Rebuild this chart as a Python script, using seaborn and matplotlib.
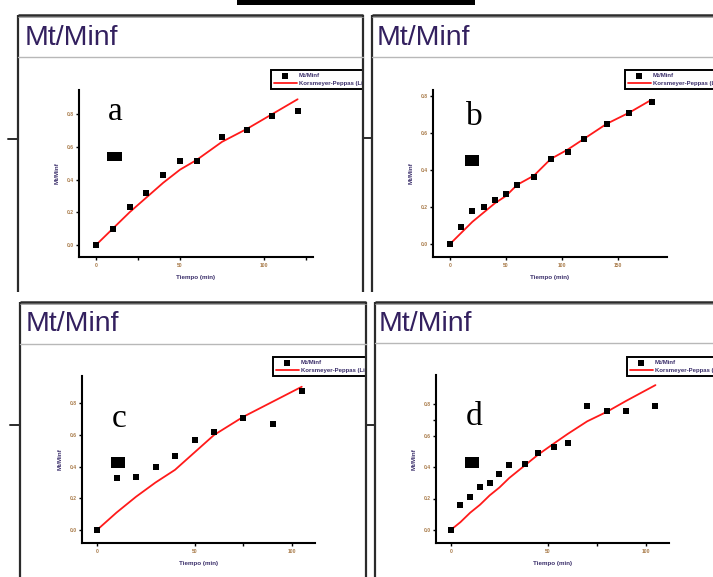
import matplotlib
matplotlib.use('Agg')
import matplotlib.pyplot as plt
import seaborn as sns
from matplotlib.patches import Rectangle

W, H = 713, 577

# ---------------- data ----------------
a_time = [0, 10, 20, 30, 40, 50, 60, 75, 90, 105, 120]
a_mt = [0.00, 0.10, 0.23, 0.32, 0.43, 0.51, 0.51, 0.66, 0.70, 0.79, 0.82]
a_fit = [0.00, 0.10, 0.20, 0.29, 0.38, 0.46, 0.52, 0.63, 0.71, 0.80, 0.89]

b_time = [0, 10, 20, 30, 40, 50, 60, 75, 90, 105, 120, 140, 160, 180]
b_mt = [0.00, 0.09, 0.18, 0.20, 0.24, 0.27, 0.32, 0.36, 0.46, 0.50, 0.57, 0.65, 0.71, 0.77]
b_fit = [0.00, 0.06, 0.12, 0.17, 0.22, 0.26, 0.32, 0.37, 0.46, 0.51, 0.57, 0.65, 0.71, 0.78]

c_time = [0, 10, 20, 30, 40, 50, 60, 75, 90, 105]
c_mt = [0.00, 0.33, 0.335, 0.40, 0.47, 0.57, 0.62, 0.705, 0.67, 0.88]
c_fit = [0.00, 0.11, 0.21, 0.30, 0.38, 0.49, 0.60, 0.715, 0.81, 0.905]

d_time = [0, 5, 10, 15, 20, 25, 30, 38, 45, 53, 60, 70, 80, 90, 105]
d_mt = [0.00, 0.16, 0.21, 0.27, 0.30, 0.355, 0.41, 0.42, 0.49, 0.53, 0.55, 0.79, 0.755, 0.755, 0.79]
d_fit = [0.00, 0.05, 0.11, 0.16, 0.22, 0.27, 0.33, 0.41, 0.48, 0.55, 0.61, 0.69, 0.75, 0.82, 0.92]

panel_letters = ["a", "b", "c", "d"]
window_title = "Mt/Minf"
x_label = "Tiempo (min)"
y_label = "Mt/Minf"
legend_labels = ["Mt/Minf", "Korsmeyer-Peppas (Lineal)"]
y_ticks = [0.0, 0.2, 0.4, 0.6, 0.8]
a_xticks = [0, 50, 100]
b_xticks = [0, 50, 100, 150]
c_xticks = [0, 50, 100]
d_xticks = [0, 50, 100]

# ---------------- layout (pixels) ----------------
panels = [
    dict(data=(a_time, a_mt, a_fit), letter=panel_letters[0], xt=a_xticks, xminor=[25, 125], yminor=[],
         frame=(18, 15, 363), sep=57, title=(25, 45), let=(108, 120), rect=(107, 152, 122, 161), ltick=(8, 139),
         box=(79, 90, 313, 257), x0=96, sx=1.68, y0=245, sy=163.75, leg=(271, 70)),
    dict(data=(b_time, b_mt, b_fit), letter=panel_letters[1], xt=b_xticks, xminor=[], yminor=[],
         frame=(372, 15, 760), sep=57, title=(377, 45), let=(466, 125), rect=(465, 155, 479, 166), ltick=(363, 138),
         box=(433, 90, 667, 257), x0=450, sx=1.12, y0=244, sy=185.0, leg=(625, 70)),
    dict(data=(c_time, c_mt, c_fit), letter=panel_letters[2], xt=c_xticks, xminor=[75], yminor=[],
         frame=(20, 302, 366), sep=344, title=(26, 331), let=(112, 427), rect=(111, 457, 125, 468), ltick=(10, 425),
         box=(82, 376, 315, 543), x0=97, sx=1.95, y0=530, sy=158.3, leg=(273, 357)),
    dict(data=(d_time, d_mt, d_fit), letter=panel_letters[3], xt=d_xticks, xminor=[75], yminor=[0.7],
         frame=(375, 302, 760), sep=343, title=(379, 331), let=(466, 425), rect=(465, 457, 479, 468), ltick=(366, 425),
         box=(436, 375, 669, 543), x0=450.7, sx=1.95, y0=530, sy=157.5, leg=(627, 357)),
]

sns.set_style("white")
plt.rcParams['font.family'] = ['Liberation Sans', 'DejaVu Sans']

fig = plt.figure(figsize=(W / 100, H / 100), dpi=100)
fig.patch.set_facecolor('white')

tick_color = '#a87a48'
text_color = '#3a2e6a'

for p in panels:
    bx0, by0, bx1, by1 = p['box']
    ax = fig.add_axes([bx0 / W, 1 - by1 / H, (bx1 - bx0) / W, (by1 - by0) / H])
    ax.set_facecolor('none')
    t, m, f = p['data']
    sns.lineplot(x=t, y=f, ax=ax, color='#ff1a1a', lw=1.3, label=legend_labels[1], zorder=2)
    sns.scatterplot(x=t, y=m, ax=ax, marker='s', color='black', s=18, linewidth=0,
                    label=legend_labels[0], zorder=3)
    ax.set_xlim((bx0 - p['x0']) / p['sx'], (bx1 - p['x0']) / p['sx'])
    ax.set_ylim((p['y0'] - by1) / p['sy'], (p['y0'] - by0) / p['sy'])
    for s in ['top', 'right']:
        ax.spines[s].set_visible(False)
    for s in ['left', 'bottom']:
        ax.spines[s].set_linewidth(1.5)
        ax.spines[s].set_color('black')
    ax.set_xticks(p['xt'])
    ax.set_xticklabels([str(v) for v in p['xt']])
    ax.set_xticks(p['xminor'], minor=True)
    ax.set_yticks(y_ticks)
    ax.set_yticklabels([f"{v:.1f}" for v in y_ticks])
    ax.set_yticks(p['yminor'], minor=True)
    ax.tick_params(axis='both', which='both', direction='out', length=2.5, width=1.0,
                   color='black', labelsize=3.6, labelcolor=tick_color, pad=1.5,
                   bottom=True, left=True)
    for lab in ax.get_xticklabels() + ax.get_yticklabels():
        lab.set_fontweight('bold')
    ax.set_xlabel(x_label, fontsize=4.5, fontweight='bold', color=text_color, labelpad=5)
    ax.set_ylabel(y_label, fontsize=4.5, fontweight='bold', color=text_color, labelpad=5)
    h, l = ax.get_legend_handles_labels()
    order = [l.index(legend_labels[0]), l.index(legend_labels[1])]
    leg = ax.legend([h[i] for i in order], [l[i] for i in order],
                    loc='upper left', bbox_to_anchor=(p['leg'][0] / W, 1 - p['leg'][1] / H),
                    bbox_transform=fig.transFigure, borderaxespad=0, fontsize=4.3,
                    frameon=True, fancybox=False, edgecolor='black', framealpha=1,
                    borderpad=0.5, labelspacing=0.4, handlelength=3.8, handletextpad=0.4,
                    markerscale=1.0)
    leg.get_frame().set_linewidth(1.4)
    for txt in leg.get_texts():
        txt.set_color(text_color)
        txt.set_fontweight('bold')

# ---------------- overlay: window frames, titles, letters ----------------
ov = fig.add_axes([0, 0, 1, 1])
ov.set_xlim(0, W)
ov.set_ylim(H, 0)
ov.axis('off')

# gaps between the cropped screenshots (hide overflow of the left windows)
ov.add_patch(Rectangle((363.8, 60), 7.5, 235, facecolor='white', edgecolor='none', zorder=1))
ov.add_patch(Rectangle((363.8, 62), 40, 34, facecolor='white', edgecolor='none', zorder=1))
ov.add_patch(Rectangle((366.8, 345), 7.5, 232, facecolor='white', edgecolor='none', zorder=1))
ov.add_patch(Rectangle((366.8, 348), 40, 34, facecolor='white', edgecolor='none', zorder=1))
# black bar at top
ov.add_patch(Rectangle((237, 0), 238, 4.5, facecolor='black', edgecolor='none', zorder=3))

fc = '#2b2b2b'
for p in panels:
    fl, ft, frr = p['frame']
    bottom = 292 if ft < 100 else 580
    ov.plot([fl, fl], [ft, bottom], color=fc, lw=1.6, zorder=4, solid_capstyle='butt')
    ov.plot([frr, frr], [ft, bottom], color=fc, lw=1.6, zorder=4, solid_capstyle='butt')
    ov.plot([fl, frr], [ft, ft], color=fc, lw=1.8, zorder=4, solid_capstyle='butt')
    ov.plot([fl, frr], [ft + 2.2, ft + 2.2], color='#9a9a9a', lw=0.6, zorder=4)
    ov.plot([fl, frr], [p['sep'], p['sep']], color='#b8b8b8', lw=1.0, zorder=4)
    lx, ly = p['ltick']
    ov.plot([lx, fl], [ly, ly], color=fc, lw=1.4, zorder=4)
    ov.text(p['title'][0], p['title'][1], window_title, fontsize=20.5, color='#33205f',
            ha='left', va='baseline', zorder=5, family=['Liberation Sans', 'DejaVu Sans'])
    ov.text(p['let'][0], p['let'][1], p['letter'], fontsize=24, color='black',
            ha='left', va='baseline', zorder=5, family=['Liberation Serif', 'DejaVu Serif'])
    r = p['rect']
    ov.add_patch(Rectangle((r[0], r[1]), r[2] - r[0], r[3] - r[1], facecolor='black',
                           edgecolor='none', zorder=5))

fig.savefig('out.png', dpi=100)
